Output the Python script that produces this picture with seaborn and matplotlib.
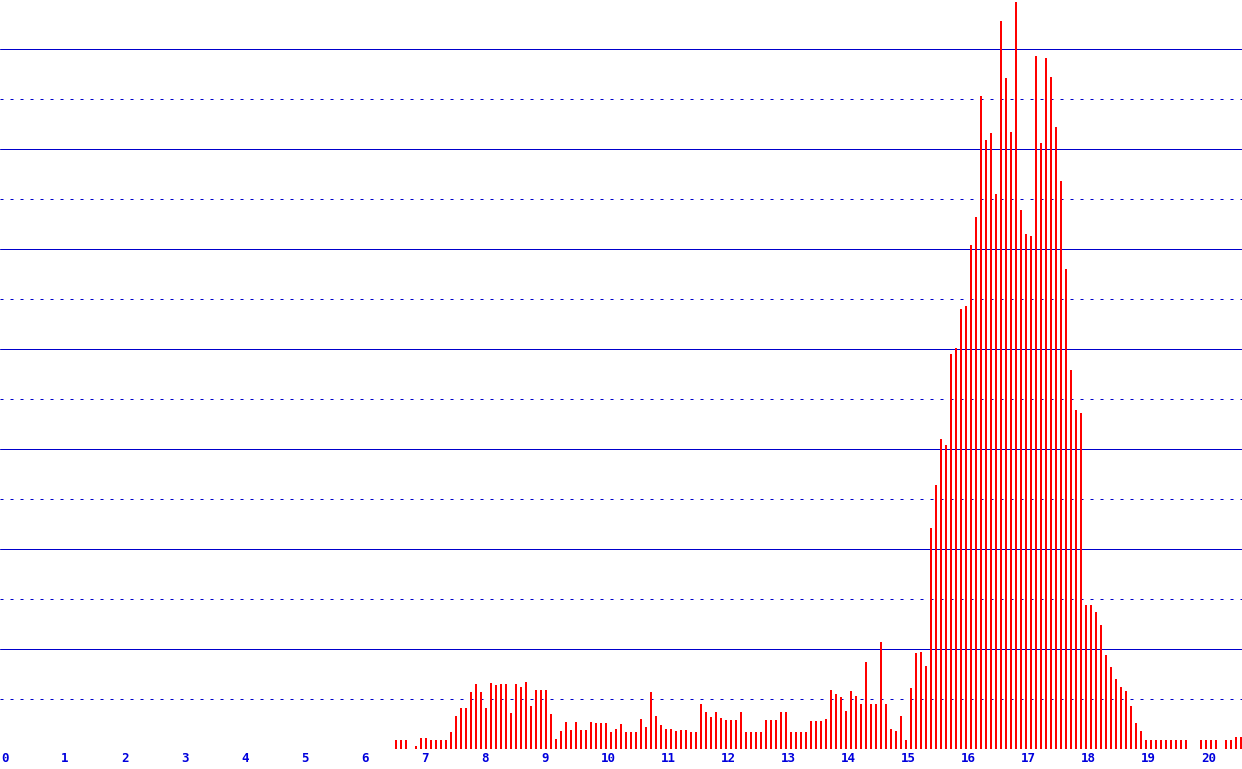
import matplotlib
matplotlib.use("Agg")
import matplotlib.pyplot as plt
import numpy as np
import pandas as pd
import seaborn as sns

# bins are 1/12 wide; first drawn bin is number 79 (x = 6.583)
first_bin = 79
heights = [
    0.18, 0.18, 0.18, 0.00, 0.06, 0.22, 0.22, 0.18, 0.18, 0.18, 0.18, 0.34,
    0.66, 0.82, 0.82, 1.14, 1.30, 1.14, 0.82, 1.32, 1.28, 1.30, 1.30, 0.72,
    1.30, 1.24, 1.34, 0.86, 1.18, 1.18, 1.18, 0.70, 0.20, 0.36, 0.54, 0.38,
    0.54, 0.38, 0.38, 0.54, 0.52, 0.52, 0.52, 0.34, 0.40, 0.50, 0.34, 0.34,
    0.34, 0.60, 0.44, 1.14, 0.66, 0.48, 0.40, 0.40, 0.36, 0.38, 0.38, 0.34,
    0.34, 0.90, 0.74, 0.64, 0.74, 0.62, 0.58, 0.58, 0.58, 0.74, 0.34, 0.34,
    0.34, 0.34, 0.58, 0.58, 0.58, 0.74, 0.74, 0.34, 0.34, 0.34, 0.34, 0.56,
    0.56, 0.56, 0.60, 1.18, 1.10, 1.04, 0.76, 1.16, 1.06, 0.90, 1.74, 0.90,
    0.90, 2.14, 0.90, 0.40, 0.36, 0.66, 0.18, 1.22, 1.92, 1.94, 1.66, 4.42,
    5.28, 6.20, 6.08, 7.90, 8.02, 8.80, 8.86, 10.08, 10.64, 13.06, 12.18, 12.32,
    11.10, 14.56, 13.42, 12.34, 14.94, 10.78, 10.30, 10.26, 13.86, 12.12, 13.82, 13.44,
    12.44, 11.36, 9.60, 7.58, 6.78, 6.72, 2.88, 2.88, 2.74, 2.48, 1.88, 1.64,
    1.40, 1.24, 1.16, 0.86, 0.52, 0.36, 0.18, 0.18, 0.18, 0.18, 0.18, 0.18,
    0.18, 0.18, 0.18, 0.00, 0.00, 0.18, 0.18, 0.18, 0.18, 0.00, 0.18, 0.18,
    0.24, 0.24,
]
tick_values = list(range(0, 21))

df = pd.DataFrame({
    "x": [(first_bin + i) / 12 for i in range(len(heights))],
    "h": heights,
})

sns.set_style("white")
fig = plt.figure(figsize=(12.42, 7.69), dpi=100)
ax = fig.add_axes([0, 20 / 769, 1, 749 / 769])

grid_blue = "#0000cc"
for v in range(0, 15):
    if v % 2 == 0:
        ax.axhline(v, color=grid_blue, lw=0.72, zorder=0)
    else:
        ax.axhline(v, color=grid_blue, lw=0.72, ls=(0, (3, 7)), zorder=0)

sns.barplot(data=df, x="x", y="h", native_scale=True, width=0.4,
            color="#ff0000", saturation=1, linewidth=0, ax=ax, zorder=2)
for p in ax.patches:
    p.set_antialiased(False)

ax.set_xlim(-1 / 60, 20.7 - 1 / 60)
ax.set_ylim(0, 749 / 50)
ax.set_xticks(tick_values)
ax.set_xticklabels([str(t) for t in tick_values], ha="left",
                   color="#0000dd", fontsize=9, fontweight="bold",
                   family="DejaVu Sans Mono")
ax.tick_params(axis="x", length=0, pad=2)
ax.set_yticks([])
ax.set_xlabel("")
ax.set_ylabel("")
for s in ax.spines.values():
    s.set_visible(False)

fig.savefig("out.png", dpi=100)
